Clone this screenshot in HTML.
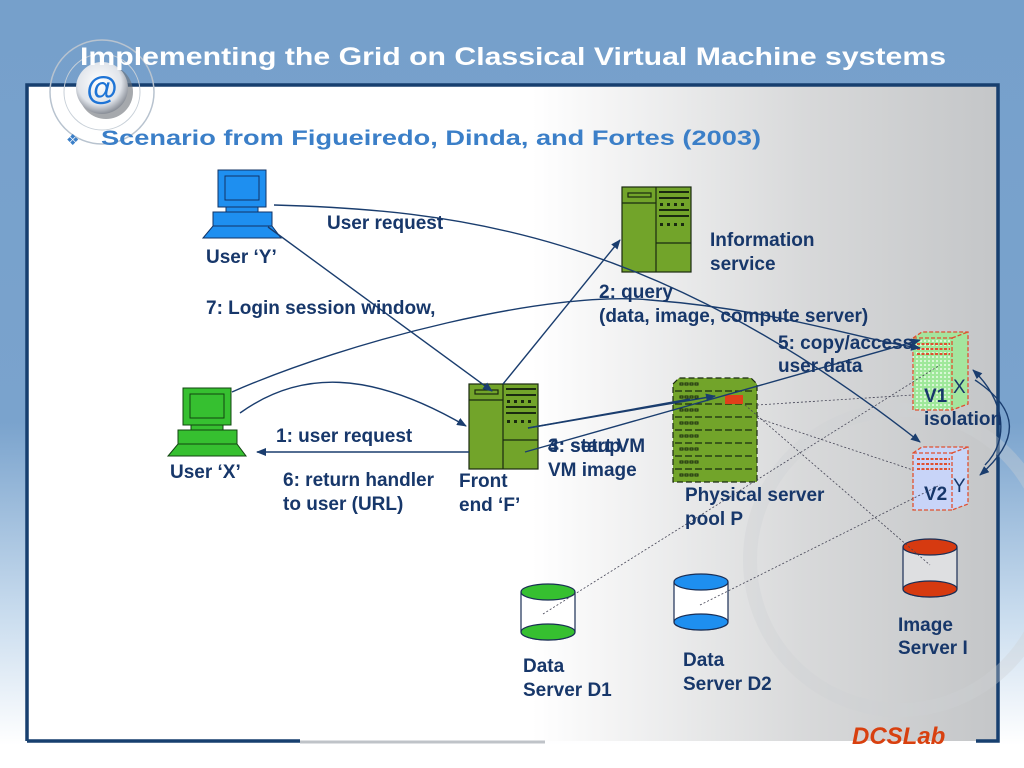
<!DOCTYPE html>
<html><head><meta charset="utf-8"><style>
html,body{margin:0;padding:0}
body{width:1024px;height:768px;overflow:hidden;position:relative;font-family:"Liberation Sans",Arial,sans-serif;
background:linear-gradient(180deg,#76a0cb 0%,#7aa3cd 55%,#c9dcee 80%,#ffffff 97%);}
svg{position:absolute;left:0;top:0}
</style></head><body>
<svg width="1024" height="768" viewBox="0 0 1024 768">
<defs>
<linearGradient id="pg" x1="0" y1="0" x2="1" y2="0">
<stop offset="0" stop-color="#ffffff"/><stop offset="0.52" stop-color="#ffffff"/><stop offset="0.8" stop-color="#d8d9da"/><stop offset="1" stop-color="#c4c6c8"/>
</linearGradient>
<radialGradient id="at" cx="0.45" cy="0.4" r="0.6"><stop offset="0" stop-color="#ffffff"/><stop offset="0.7" stop-color="#e0e4ea"/><stop offset="1" stop-color="#8a8f98"/></radialGradient>
<marker id="ar" markerWidth="10" markerHeight="8" refX="9" refY="4" orient="auto" markerUnits="userSpaceOnUse"><path d="M0,0 L10,4 L0,8 z" fill="#1a3d6e"/></marker>
<pattern id="chk" width="4" height="4" patternUnits="userSpaceOnUse"><rect width="4" height="4" fill="#9fe89a"/><rect width="2" height="2" fill="#d8f7d5"/></pattern>
</defs>
<!-- panel -->
<rect x="27" y="85" width="971" height="656" fill="url(#pg)"/>
<path d="M27,741 L27,85 L998,85 L998,741 L976,741" fill="none" stroke="#173f6f" stroke-width="3.5"/>
<path d="M27,741 L300,741" stroke="#173f6f" stroke-width="3.5"/>
<path d="M300,742 L545,742" stroke="#bfc3c8" stroke-width="3"/>
<circle cx="900" cy="560" r="150" fill="none" stroke="#cfd1d4" stroke-width="14" opacity="0.35"/>
<!-- @ logo -->
<circle cx="102" cy="92" r="52" fill="none" stroke="#b8c3cf" stroke-width="1.5"/>
<circle cx="102" cy="92" r="38" fill="none" stroke="#c8d0d8" stroke-width="1"/>
<circle cx="106" cy="92" r="27" fill="#6b6f76" opacity="0.6"/>
<circle cx="102" cy="88" r="26" fill="url(#at)"/>
<text x="102" y="99" font-size="32" font-weight="bold" fill="#1e74d6" text-anchor="middle">@</text>
<!-- title -->
<text x="80" y="65" font-size="25" font-weight="bold" fill="#ffffff" textLength="866" lengthAdjust="spacingAndGlyphs">Implementing the Grid on Classical Virtual Machine systems</text>
<text x="66" y="145" font-size="15" fill="#3b7fc8">❖</text>
<text x="101" y="145" font-size="21" font-weight="bold" fill="#3b7fc8" textLength="660" lengthAdjust="spacingAndGlyphs">Scenario from Figueiredo, Dinda, and Fortes (2003)</text>

<!-- User Y computer -->
<g stroke="#113366" stroke-width="1">
<rect x="218" y="170" width="48" height="37" fill="#1e8ff0"/>
<rect x="225" y="176" width="34" height="24" fill="#1e8ff0"/>
<rect x="226" y="207" width="32" height="5" fill="#1e8ff0"/>
<rect x="213" y="212" width="59" height="14" fill="#1e8ff0"/>
<path d="M213,226 L272,226 L281,238 L203,238 Z" fill="#1e8ff0"/>
</g>
<!-- User X computer -->
<g stroke="#114411" stroke-width="1">
<rect x="183" y="388" width="48" height="37" fill="#36c030"/>
<rect x="190" y="394" width="34" height="24" fill="#36c030"/>
<rect x="191" y="425" width="32" height="5" fill="#36c030"/>
<rect x="178" y="430" width="59" height="14" fill="#36c030"/>
<path d="M178,444 L237,444 L246,456 L168,456 Z" fill="#36c030"/>
</g>
<!-- Front end server -->
<g stroke="#1a2a10" stroke-width="1.2" fill="#72a42a">
<rect x="469" y="384" width="69" height="85"/>
<line x1="503" y1="384" x2="503" y2="469"/>
<line x1="469" y1="400" x2="503" y2="400"/>
<rect x="475" y="390" width="23" height="4"/>
<line x1="503" y1="440" x2="538" y2="440"/>
</g>
<g stroke="#1a2a10" stroke-width="2"><line x1="506" y1="389" x2="536" y2="389"/><line x1="506" y1="395" x2="536" y2="395"/><line x1="506" y1="407" x2="536" y2="407"/><line x1="506" y1="413" x2="536" y2="413"/></g>
<g fill="#1a2a10"><rect x="507" y="400" width="3" height="3"/><rect x="514" y="400" width="3" height="3"/><rect x="521" y="400" width="3" height="3"/><rect x="528" y="400" width="3" height="3"/><rect x="507" y="420" width="3" height="3"/><rect x="514" y="420" width="3" height="3"/><rect x="521" y="420" width="3" height="3"/><rect x="528" y="420" width="3" height="3"/></g>
<!-- Info server -->
<g stroke="#1a2a10" stroke-width="1.2" fill="#72a42a">
<rect x="622" y="187" width="69" height="85"/>
<line x1="656" y1="187" x2="656" y2="272"/>
<line x1="622" y1="203" x2="656" y2="203"/>
<rect x="628" y="193" width="23" height="4"/>
<line x1="656" y1="243" x2="691" y2="243"/>
</g>
<g stroke="#1a2a10" stroke-width="2"><line x1="659" y1="192" x2="689" y2="192"/><line x1="659" y1="198" x2="689" y2="198"/><line x1="659" y1="210" x2="689" y2="210"/><line x1="659" y1="216" x2="689" y2="216"/></g>
<g fill="#1a2a10"><rect x="660" y="203" width="3" height="3"/><rect x="667" y="203" width="3" height="3"/><rect x="674" y="203" width="3" height="3"/><rect x="681" y="203" width="3" height="3"/><rect x="660" y="223" width="3" height="3"/><rect x="667" y="223" width="3" height="3"/><rect x="674" y="223" width="3" height="3"/><rect x="681" y="223" width="3" height="3"/></g>
<!-- Physical pool -->
<path d="M673,384 L679,378 L751,378 L757,384 L757,482 L673,482 Z" fill="#72a42a" stroke="#1a2a10" stroke-width="1.2" stroke-dasharray="6,3"/>
<g stroke="#1a2a10" stroke-width="1.2" stroke-dasharray="7,3">
<line x1="675" y1="391" x2="755" y2="391"/><line x1="675" y1="404" x2="755" y2="404"/><line x1="675" y1="417" x2="755" y2="417"/><line x1="675" y1="430" x2="755" y2="430"/><line x1="675" y1="443" x2="755" y2="443"/><line x1="675" y1="456" x2="755" y2="456"/><line x1="675" y1="469" x2="755" y2="469"/>
</g>
<g stroke="#1a2a10" stroke-width="1" fill="none">
<path d="M680,383h3v2h-3zM685,383h3v2h-3zM690,383h3v2h-3zM695,383h3v2h-3z"/>
<path d="M680,396h3v2h-3zM685,396h3v2h-3zM690,396h3v2h-3zM695,396h3v2h-3z"/>
<path d="M680,409h3v2h-3zM685,409h3v2h-3zM690,409h3v2h-3zM695,409h3v2h-3z"/>
<path d="M680,422h3v2h-3zM685,422h3v2h-3zM690,422h3v2h-3zM695,422h3v2h-3z"/>
<path d="M680,435h3v2h-3zM685,435h3v2h-3zM690,435h3v2h-3zM695,435h3v2h-3z"/>
<path d="M680,448h3v2h-3zM685,448h3v2h-3zM690,448h3v2h-3zM695,448h3v2h-3z"/>
<path d="M680,461h3v2h-3zM685,461h3v2h-3zM690,461h3v2h-3zM695,461h3v2h-3z"/>
<path d="M680,474h3v2h-3zM685,474h3v2h-3zM690,474h3v2h-3zM695,474h3v2h-3z"/>
</g>
<rect x="725" y="395" width="18" height="9" fill="#e0401a"/>

<!-- V1 / V2 -->
<g stroke="#e05030" stroke-width="1.3" stroke-dasharray="4,2">
<path d="M913,338 L922,332 L968,332 L968,404 L952,410 Z" fill="#a4e59e"/>
<rect x="913" y="338" width="39" height="72" fill="url(#chk)"/>
<path d="M952,338 L968,332" fill="none"/>
<path d="M913,453 L922,447 L968,447 L968,504 L952,510 Z" fill="#c8d6f8"/>
<rect x="913" y="453" width="39" height="57" fill="#c8d4f8"/>
<path d="M952,453 L968,447" fill="none"/>
</g>
<g stroke="#e05030" stroke-width="2" stroke-dasharray="3,1.5"><line x1="917" y1="344" x2="950" y2="344"/><line x1="917" y1="349" x2="950" y2="349"/><line x1="917" y1="354" x2="950" y2="354"/><line x1="917" y1="459" x2="950" y2="459"/><line x1="917" y1="464" x2="950" y2="464"/><line x1="917" y1="469" x2="950" y2="469"/></g>

<!-- cylinders -->
<g stroke="#1a2e55" stroke-width="1.2">
<path d="M521,592 L521,632 A27,8 0 0 0 575,632 L575,592" fill="#ffffff"/>
<ellipse cx="548" cy="592" rx="27" ry="8" fill="#36c030"/>
<ellipse cx="548" cy="632" rx="27" ry="8" fill="#36c030"/>
<path d="M674,582 L674,622 A27,8 0 0 0 728,622 L728,582" fill="#ffffff"/>
<ellipse cx="701" cy="582" rx="27" ry="8" fill="#1e8ff0"/>
<ellipse cx="701" cy="622" rx="27" ry="8" fill="#1e8ff0"/>
<path d="M903,547 L903,589 A27,8 0 0 0 957,589 L957,547" fill="#dedfe1"/>
<ellipse cx="930" cy="547" rx="27" ry="8" fill="#d63a10"/>
<ellipse cx="930" cy="589" rx="27" ry="8" fill="#d63a10"/>
</g>

<!-- dotted lines -->
<g stroke="#445" stroke-width="0.8" stroke-dasharray="2,2" fill="none">
<line x1="543" y1="614" x2="940" y2="365"/>
<line x1="700" y1="605" x2="940" y2="485"/>
<line x1="745" y1="405" x2="930" y2="565"/>
<line x1="757" y1="405" x2="913" y2="395"/>
<line x1="757" y1="418" x2="913" y2="470"/>
</g>

<!-- connectors -->
<g stroke="#1a3d6e" stroke-width="1.4" fill="none">
<path d="M274,205 C450,210 650,230 920,442" marker-end="url(#ar)"/>
<line x1="268" y1="227" x2="492" y2="391" marker-end="url(#ar)"/>
<line x1="503" y1="384" x2="620" y2="240" marker-end="url(#ar)"/>
<path d="M232,392 C350,340 550,290 650,300 C780,310 860,340 920,348" marker-end="url(#ar)"/>
<path d="M240,413 C300,370 370,370 466,426" marker-end="url(#ar)"/>
<line x1="469" y1="452" x2="257" y2="452" marker-end="url(#ar)"/>
<line x1="528" y1="428" x2="715" y2="396" marker-end="url(#ar)"/>
<line x1="528" y1="428" x2="690" y2="399"/>
<line x1="525" y1="452" x2="920" y2="340" marker-end="url(#ar)"/>
<path d="M975,380 C1020,410 1020,440 980,475" marker-end="url(#ar)"/>
<path d="M985,465 C1010,440 1005,400 973,370" marker-end="url(#ar)"/>
</g>

<!-- labels -->
<g font-size="19" font-weight="bold" fill="#17376a">
<text x="327" y="229">User request</text>
<text x="206" y="263">User ‘Y’</text>
<text x="206" y="314">7: Login session window,</text>
<text x="710" y="246">Information</text>
<text x="710" y="270">service</text>
<text x="599" y="298">2: query</text>
<text x="599" y="322">(data, image, compute server)</text>
<text x="778" y="349">5: copy/access</text>
<text x="778" y="372">user data</text>
<text x="924" y="402">V1</text>
<text x="924" y="425">isolation</text>
<text x="924" y="500">V2</text>
<text x="276" y="442">1: user request</text>
<text x="170" y="478">User ‘X’</text>
<text x="283" y="486">6: return handler</text>
<text x="283" y="510">to user (URL)</text>
<text x="459" y="487">Front</text>
<text x="459" y="511">end ‘F’</text>
<text x="548" y="452">3: start VM</text>
<text x="548" y="452">4: setup</text>
<text x="548" y="476">VM image</text>
<text x="685" y="501">Physical server</text>
<text x="685" y="525">pool P</text>
<text x="898" y="631">Image</text>
<text x="898" y="654">Server I</text>
<text x="683" y="666">Data</text>
<text x="683" y="690">Server D2</text>
<text x="523" y="672">Data</text>
<text x="523" y="696">Server D1</text>
</g>
<text x="953" y="393" font-size="19" fill="#17376a">X</text>
<text x="953" y="492" font-size="19" fill="#17376a">Y</text>
<text x="852" y="744" font-size="24" font-weight="bold" font-style="italic" fill="#d8400f">DCSLab</text>
</svg>
</body></html>
